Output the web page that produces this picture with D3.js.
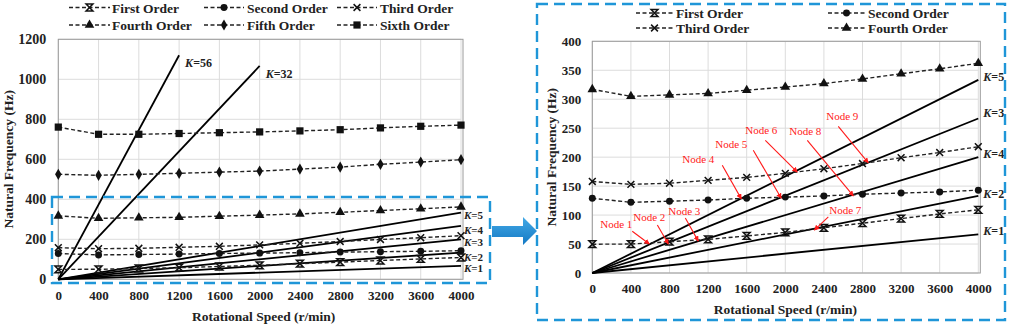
<!DOCTYPE html>
<html><head><meta charset="utf-8">
<script src="https://cdn.jsdelivr.net/npm/d3@7"></script>
<style>
body{margin:0;background:#fff;}
svg, svg text{font-family:"Liberation Serif","Times New Roman",serif;}
</style></head><body>
<svg id="c" width="1010" height="325" font-family="Liberation Serif, serif"></svg>
<script>
// ---------- data ----------
const speeds = [0,400,800,1200,1600,2000,2400,2800,3200,3600,4000];
const firstOrder  = [49.7,50,54,58,64,70,78,86,94,102,109];
const secondOrder = [129,122,124,126,129,131,133,136,138,140,143];
const thirdOrder  = [158,153,155,160,165,172,180,189,199,208,218];
const fourthOrder = [317,305,307.5,310,315.6,321,327,335,344,352.6,362];
const fifthOrder  = [525,520,525,530,536,541,551,561,575,586,598];
const sixthOrder  = [761,725,725,729,733,737,742,748,757,765,771];
const orderNames  = ["First Order","Second Order","Third Order","Fourth Order","Fifth Order","Sixth Order"];
const markerTypes = ["star","circle","x","triangle","diamond","square"];

const kValues      = [1,2,3,4,5];
const kExtraValues = [56,32];
const kExtraEnds   = [1200,2000];
const kLeftLabelNames  = ["K=5","K=4","K=3","K=2","K=1"];
const kLeftLabelHz     = [323,245,187,113,58];
const kRightLabelNames = ["K=5","K=3","K=4","K=2","K=1"];
const kRightLabelHz    = [339,277,206,137,72];

const leftYTicks  = [0,200,400,600,800,1000,1200];
const rightYTicks = [0,50,100,150,200,250,300,350,400];
const xTicks      = [0,400,800,1200,1600,2000,2400,2800,3200,3600,4000];

const nodeNames  = ["Node 1","Node 2","Node 3","Node 4","Node 5","Node 6","Node 7","Node 8","Node 9"];
const nodeTextRpm = [249,591,953,1098,1440,1751,2622,2207,2591];
const nodeTextHz  = [84,97,107,197,222,247,109,245,271];
const nodeTailRpm = [414,674,964,1347,1668,1793,2446,2228,2549];
const nodeTailHz  = [72,83,95,186,212,229,97,229,253];
const nodeTipRpm  = [591,788,1098,1544,1958,2124,2301,2705,2860];
const nodeTipHz   = [50,50,55,128,129,174,74,133,190];

const allOrders = [firstOrder,secondOrder,thirdOrder,fourthOrder,fifthOrder,sixthOrder];

// ---------- drawing ----------
const FONT = "Liberation Serif, Times New Roman, serif";
const svg = d3.select("#c");
const blue = "#1f96d8";
const defs = svg.append("defs");
defs.append("marker").attr("id","redArrow").attr("viewBox","0 0 10 10")
  .attr("refX",9).attr("refY",5).attr("markerWidth",5).attr("markerHeight",5)
  .attr("orient","auto").append("path").attr("d","M0,0L10,5L0,10Z").attr("fill","#ff1a1a");
const grad = defs.append("linearGradient").attr("id","bg").attr("x1",0).attr("y1",0).attr("x2",0).attr("y2",1);
grad.append("stop").attr("offset","0%").attr("stop-color","#43a9e6");
grad.append("stop").attr("offset","100%").attr("stop-color","#1479c4");

function txt(sel){ return sel.attr("font-family",FONT); }

function markerPath(type){
  const s=3.4;
  switch(type){
    case "star": return `M${-s},${-s}H${s}L${-s},${s}H${s}Z`;
    case "x": return `M${-s},${-s}L${s},${s}M${-s},${s}L${s},${-s}`;
    case "circle": return d3.symbol(d3.symbolCircle,38)();
    case "triangle": return d3.symbol(d3.symbolTriangle,40)();
    case "diamond": return d3.symbol(d3.symbolDiamond,36)();
    case "square": return d3.symbol(d3.symbolSquare,52)();
  }
}
function drawMarker(g,type,x,y){
  const p = g.append("path").attr("d",markerPath(type)).attr("transform",`translate(${x},${y})`);
  if(type==="star"||type==="x") p.attr("fill","none").attr("stroke","#111").attr("stroke-width",1.5);
  else p.attr("fill","#111");
}

function drawChart(cfg){
  const g = svg.append("g");
  const x = d3.scaleLinear().domain([0,4000]).range(cfg.xr);
  const y = d3.scaleLinear().domain([0,cfg.ymax]).range(cfg.yr);
  // grid
  g.append("g").selectAll("line").data(xTicks).join("line")
    .attr("x1",d=>x(d)).attr("x2",d=>x(d)).attr("y1",y(0)).attr("y2",y(cfg.ymax))
    .attr("stroke","#dcdcdc").attr("stroke-width",1);
  g.append("g").selectAll("line").data(cfg.yTicks).join("line")
    .attr("x1",x(0)).attr("x2",x(4000)).attr("y1",d=>y(d)).attr("y2",d=>y(d))
    .attr("stroke","#dcdcdc").attr("stroke-width",1);
  g.append("rect").attr("x",x(0)).attr("y",y(cfg.ymax)).attr("width",x(4000)-x(0)+2)
    .attr("height",y(0)-y(cfg.ymax)).attr("fill","none").attr("stroke","#9a9a9a").attr("stroke-width",1);
  // axes labels
  const fmt = d3.format("d");
  const xa = d3.axisBottom(x).tickValues(xTicks).tickFormat(fmt).tickSize(0).tickPadding(cfg.xPad);
  const ax = g.append("g").attr("transform",`translate(0,${y(0)})`).call(xa);
  ax.attr("font-family",FONT);
  ax.select(".domain").remove();
  ax.selectAll("text").attr("font-family",FONT).attr("font-weight","bold").attr("font-size",13).attr("fill","#222");
  const ya = d3.axisLeft(y).tickValues(cfg.yTicks).tickFormat(fmt).tickSize(0).tickPadding(cfg.yPad);
  const ay = g.append("g").attr("transform",`translate(${x(0)},0)`).call(ya);
  ay.attr("font-family",FONT);
  ay.select(".domain").remove();
  ay.selectAll("text").attr("font-family",FONT).attr("font-weight","bold").attr("font-size",cfg.yFont).attr("fill","#222");
  // titles
  txt(g.append("text")).attr("x",(x(0)+x(4000))/2+cfg.xTitleDx).attr("y",cfg.xTitleY).attr("text-anchor","middle")
    .attr("font-weight","bold").attr("font-size",13.5).attr("fill","#222").text("Rotational Speed (r/min)");
  txt(g.append("text")).attr("transform",`translate(${cfg.yTitleX},${(y(0)+y(cfg.ymax))/2}) rotate(-90)`)
    .attr("text-anchor","middle").attr("font-weight","bold").attr("font-size",13.5).attr("fill","#222")
    .text("Natural Frequency (Hz)");
  // K lines
  const line = d3.line().x(d=>x(d[0])).y(d=>y(d[1]));
  g.append("g").selectAll("path").data(cfg.kLines).join("path")
    .attr("d",d=>line([[0,0],[d.end,d.k*d.end/60]]))
    .attr("fill","none").attr("stroke","#000").attr("stroke-width",1.8);
  // order series
  cfg.orders.forEach(i=>{
    const pts = speeds.map((s,j)=>[s,allOrders[i][j]]);
    g.append("path").attr("d",line(pts)).attr("fill","none").attr("stroke","#222")
      .attr("stroke-width",1.4).attr("stroke-dasharray","4,2.5");
    pts.forEach(p=>drawMarker(g,markerTypes[i],x(p[0]),y(p[1])));
  });
  // K labels
  cfg.kLabels.forEach(d=>{
    const t = txt(g.append("text")).attr("x",x(4000)+cfg.kLabelDx).attr("y",y(d.hz)+4)
      .attr("font-weight","bold").attr("font-size",cfg.kFont).attr("fill","#222");
    t.append("tspan").attr("font-style","italic").text("K");
    t.append("tspan").text(d.name.slice(1));
  });
  return {g,x,y};
}

// Left chart
const L = drawChart({
  xr:[58.3,461], yr:[279.3,39.3], ymax:1200, yTicks:leftYTicks, yFont:14, xPad:11, yPad:12,
  xTitleY:321, xTitleDx:4, yTitleX:13,
  orders:[0,1,2,3,4,5],
  kLines: kValues.map(k=>({k,end:4000})).concat(kExtraValues.map((k,i)=>({k,end:kExtraEnds[i]}))),
  kLabels: kLeftLabelNames.map((n,i)=>({name:n,hz:kLeftLabelHz[i]})), kLabelDx:3, kFont:11
});
// K=56 / K=32 labels
kExtraValues.forEach((k,i)=>{
  const e=kExtraEnds[i];
  const t=txt(L.g.append("text")).attr("x",L.x(e)+6).attr("y",L.y(k*e/60)+12)
    .attr("font-weight","bold").attr("font-size",12).attr("fill","#222");
  t.append("tspan").attr("font-style","italic").text("K");
  t.append("tspan").text("="+k);
});

// Right chart
const R = drawChart({
  xr:[592.3,978.3], yr:[273,41.3], ymax:400, yTicks:rightYTicks, yFont:13, xPad:11, yPad:11,
  xTitleY:314, xTitleDx:0, yTitleX:556,
  orders:[0,1,2,3],
  kLines: kValues.map(k=>({k,end:4000})),
  kLabels: kRightLabelNames.map((n,i)=>({name:n,hz:kRightLabelHz[i]})), kLabelDx:5, kFont:12
});
// node annotations
nodeNames.forEach((n,i)=>{
  R.g.append("line").attr("x1",R.x(nodeTailRpm[i])).attr("y1",R.y(nodeTailHz[i]))
    .attr("x2",R.x(nodeTipRpm[i])).attr("y2",R.y(nodeTipHz[i]))
    .attr("stroke","#ff1a1a").attr("stroke-width",1.1).attr("marker-end","url(#redArrow)");
  txt(R.g.append("text")).attr("x",R.x(nodeTextRpm[i])).attr("y",R.y(nodeTextHz[i])+4)
    .attr("text-anchor","middle").attr("font-size",11).attr("fill","#ff1a1a").text(n);
});

// Legends
function legend(items, cols, rowYs){
  items.forEach((it,idx)=>{
    const c = cols[idx%cols.length], ry = rowYs[Math.floor(idx/cols.length)];
    const g = svg.append("g");
    g.append("line").attr("x1",c.l0).attr("x2",c.l1).attr("y1",ry).attr("y2",ry)
      .attr("stroke","#222").attr("stroke-width",1.4).attr("stroke-dasharray","4,2.5");
    drawMarker(g,markerTypes[it],(c.l0+c.l1)/2,ry);
    txt(g.append("text")).attr("x",c.t).attr("y",ry+5).attr("font-weight","bold").attr("font-size",13.5)
      .attr("fill","#222").text(orderNames[it]);
  });
}
legend([0,1,2,3,4,5],[{l0:69,l1:110,t:112},{l0:204,l1:244,t:247},{l0:337,l1:377,t:380}],[7.5,25]);
legend([0,1,2,3],[{l0:636,l1:673,t:676},{l0:828,l1:865,t:868}],[13,28]);

// blue dashed highlight boxes and arrow
svg.append("rect").attr("x",52).attr("y",197).attr("width",438).attr("height",86)
  .attr("fill","none").attr("stroke",blue).attr("stroke-width",2.4).attr("stroke-dasharray","11,6");
svg.append("rect").attr("x",537).attr("y",4).attr("width",468).attr("height",316)
  .attr("fill","none").attr("stroke",blue).attr("stroke-width",2.4).attr("stroke-dasharray","11,6");
svg.append("path").attr("d","M492,226H523V217L537,231L523,245V237H492Z").attr("fill","url(#bg)");
</script>
</body></html>
